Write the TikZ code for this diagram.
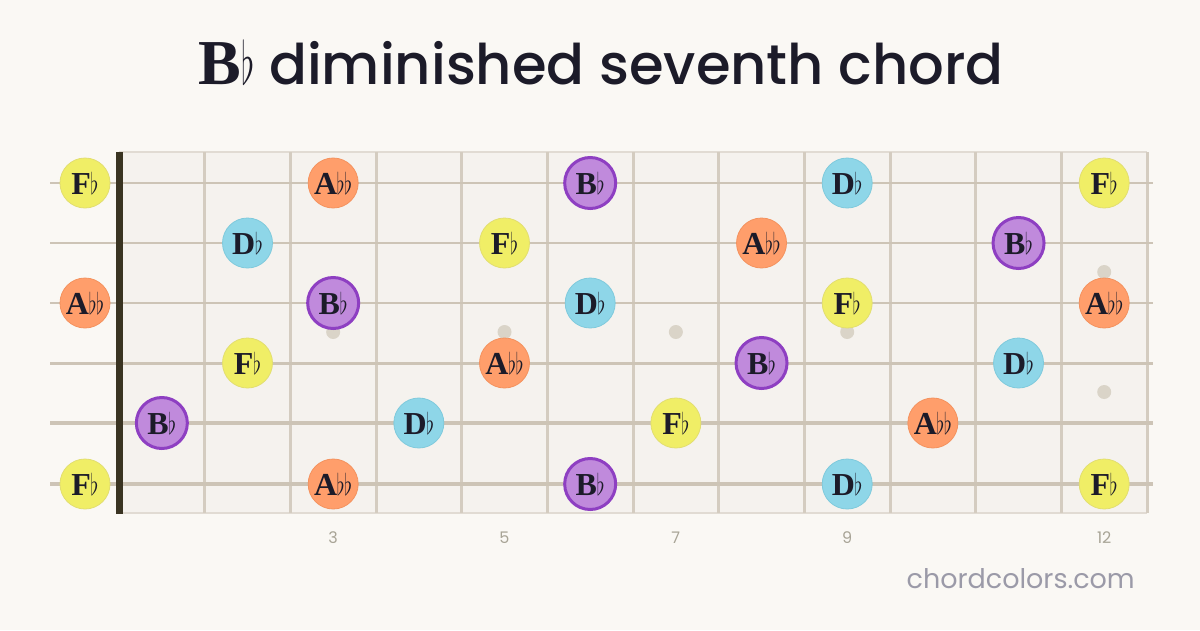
\documentclass[tikz,border=0pt]{standalone}
\usepackage{fontspec}
\setmainfont{Liberation Serif}
\newfontfamily\titlefont{Poppins Medium}
\newfontfamily\sansfont{Poppins}
\definecolor{bg}{HTML}{FAF8F4}
\definecolor{board}{HTML}{F5F2EE}
\definecolor{fretc}{HTML}{D4CCC0}
\definecolor{stringc}{HTML}{CDC4B6}
\definecolor{nutc}{HTML}{3A3422}
\definecolor{dotc}{HTML}{DAD4C8}
\definecolor{ink}{HTML}{1C1B29}
\definecolor{numc}{HTML}{A8A496}
\definecolor{urlc}{HTML}{9B9AA8}
\definecolor{yelF}{HTML}{F0EE66}
\definecolor{yelB}{HTML}{E2DE70}
\definecolor{oraF}{HTML}{FF9E6B}
\definecolor{oraB}{HTML}{F4925E}
\definecolor{bluF}{HTML}{8ED6E8}
\definecolor{bluB}{HTML}{7FCADC}
\definecolor{purF}{HTML}{C08ADC}
\definecolor{purB}{HTML}{8E3FC2}
\newcommand{\fl}{\kern-0.5pt\scalebox{0.85}[1.2]{$\flat$}}
\tikzset{
  note/.style={circle,minimum size=50pt,inner sep=0pt,font=\fontsize{32}{32}\selectfont\bfseries,text=ink},
  nF/.style={note,fill=yelF,draw=yelB,line width=0.8pt},
  nA/.style={note,fill=oraF,draw=oraB,line width=0.8pt},
  nD/.style={note,fill=bluF,draw=bluB,line width=0.8pt},
  nB/.style={note,fill=purF,draw=purB,line width=3pt,minimum size=51pt},
  fretline/.style={draw=fretc,line width=3pt},
  fdot/.style={circle,fill=dotc,minimum size=14pt,inner sep=0pt},
  fnum/.style={font=\sansfont\fontsize{16}{16}\selectfont,text=numc}
}
\begin{document}
\begin{tikzpicture}[x=1pt,y=-1pt]
\useasboundingbox (0,0) rectangle (1200,630);
\fill[bg] (0,0) rectangle (1200,630);
% title
\node[anchor=base,text=ink,inner sep=0pt] (title) at (601,84) {{\fontsize{64}{64}\selectfont\bfseries B\kern0.5pt\scalebox{1.4}[2.4]{$\flat$}}\titlefont\fontsize{56}{56}\selectfont\ diminished seventh chord};
% board
\fill[board] (119,152) rectangle (1147,513);
\draw[draw=fretc!70,line width=1.5pt] (119,152) -- (1147,152);
\draw[draw=fretc!70,line width=1.5pt] (119,513) -- (1147,513);
% frets
\foreach \i in {1,...,12} {
  \coordinate (ft\i) at ({119+85.67*\i},152);
  \coordinate (fb\i) at ({119+85.67*\i},513);
  \draw[fretline] (ft\i) -- (fb\i);
}
% fret dots
\foreach \n/\y in {3/332,5/332,7/332,9/332,12/272,12/392} {
  \node[fdot] (dot\n-\y) at ({119+85.67*(\n-0.5)},\y) {};
}
% strings
\foreach \s/\y/\w in {1/183/2.2,2/243/2.4,3/303/2.7,4/363/3,5/423/3.4,6/484/3.8} {
  \coordinate (sl\s) at (50,\y);
  \coordinate (sr\s) at (1153,\y);
  \draw[stringc,line width=\w pt] (sl\s) -- (sr\s);
}
% nut
\coordinate (nt) at (119,152);
\coordinate (nb) at (119,514);
\draw[nutc,line width=7pt] (nt) -- (nb);
% fret numbers
\foreach \n in {3,5,7,9,12} {
  \node[fnum] (num\n) at ({119+85.67*(\n-0.5)},538) {\n};
}
% notes
\foreach \s/\y in {1/183,6/484} {
  \node[nF] (n\s-0) at (85,\y) {F\fl};
  \node[nA] (n\s-3) at ({119+85.67*2.5},\y) {A\fl\fl};
  \node[nB] (n\s-6) at ({119+85.67*5.5},\y) {B\fl};
  \node[nD] (n\s-9) at ({119+85.67*8.5},\y) {D\fl};
  \node[nF] (n\s-12) at ({119+85.67*11.5},\y) {F\fl};
}
\node[nD] (n2-2) at ({119+85.67*1.5},243) {D\fl};
\node[nF] (n2-5) at ({119+85.67*4.5},243) {F\fl};
\node[nA] (n2-8) at ({119+85.67*7.5},243) {A\fl\fl};
\node[nB] (n2-11) at ({119+85.67*10.5},243) {B\fl};
\node[nA] (n3-0) at (85,303) {A\fl\fl};
\node[nB] (n3-3) at ({119+85.67*2.5},303) {B\fl};
\node[nD] (n3-6) at ({119+85.67*5.5},303) {D\fl};
\node[nF] (n3-9) at ({119+85.67*8.5},303) {F\fl};
\node[nA] (n3-12) at ({119+85.67*11.5},303) {A\fl\fl};
\node[nF] (n4-2) at ({119+85.67*1.5},363) {F\fl};
\node[nA] (n4-5) at ({119+85.67*4.5},363) {A\fl\fl};
\node[nB] (n4-8) at ({119+85.67*7.5},363) {B\fl};
\node[nD] (n4-11) at ({119+85.67*10.5},363) {D\fl};
\node[nB] (n5-1) at ({119+85.67*0.5},423) {B\fl};
\node[nD] (n5-4) at ({119+85.67*3.5},423) {D\fl};
\node[nF] (n5-7) at ({119+85.67*6.5},423) {F\fl};
\node[nA] (n5-10) at ({119+85.67*9.5},423) {A\fl\fl};
% url
\node[anchor=base east,inner sep=0pt,text=urlc,font=\sansfont\fontsize{27}{27}\selectfont] (url) at (1135,588) {chordcolors.com};
\end{tikzpicture}
\end{document}
